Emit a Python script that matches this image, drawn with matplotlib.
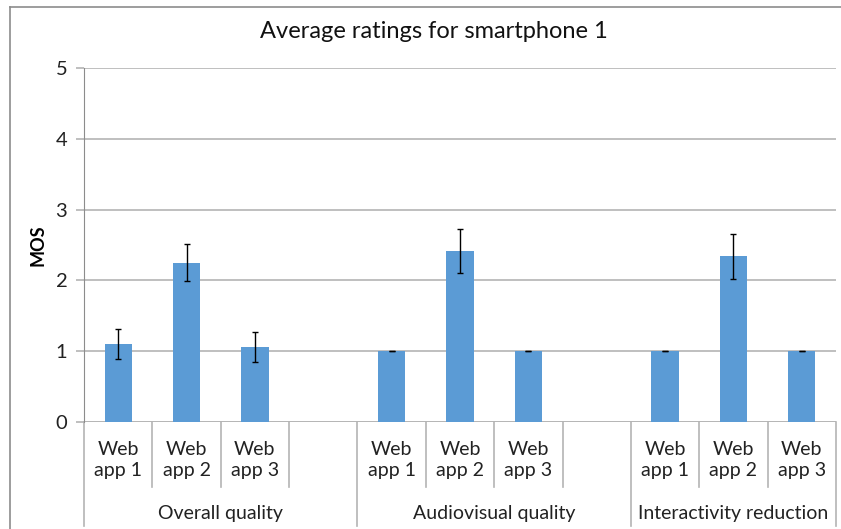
import matplotlib.pyplot as plt
from matplotlib.lines import Line2D

plt.rcParams['font.family'] = ['Lato', 'DejaVu Sans']

groups = ['Overall quality', 'Audiovisual quality', 'Interactivity reduction']
apps = ['Web\napp 1', 'Web\napp 2', 'Web\napp 3']
mos = [[1.10, 2.25, 1.06],
       [1.00, 2.41, 1.00],
       [1.00, 2.34, 1.00]]
err = [[0.21, 0.26, 0.21],
       [0.00, 0.31, 0.00],
       [0.00, 0.32, 0.00]]

fig = plt.figure(figsize=(8.41, 5.29), dpi=100)
ax = fig.add_axes([84/841, 1-422/529, 752/841, 354/529])

# chart area border (only top and left are inside the picture)
bx, by = 9.5/841, 1 - 6.5/529
fig.lines.append(Line2D([bx, 1.05], [by, by], transform=fig.transFigure,
                        color='#8c8c8c', lw=1.2))
fig.lines.append(Line2D([bx, bx], [-0.05, by], transform=fig.transFigure,
                        color='#8c8c8c', lw=1.2))

xs, vals, errs = [], [], []
for g in range(len(groups)):
    for i in range(len(apps)):
        xs.append(g*4 + i)
        vals.append(mos[g][i])
        errs.append(err[g][i])

ax.bar(xs, vals, width=0.4, color='#5b9bd5', zorder=3)
ax.errorbar(xs, vals, yerr=errs, fmt='none', ecolor='black', elinewidth=1,
            capsize=2.5, capthick=1, zorder=4)

ax.set_xlim(-0.5, 10.5)
ax.set_ylim(0, 5)
ax.set_yticks(range(6))
ax.grid(axis='y', color='#b4b4b4', lw=1.2, zorder=0)
for s in ['top', 'right', 'bottom']:
    ax.spines[s].set_visible(False)
ax.spines['left'].set_color('#8c8c8c')
ax.axhline(0, color='#b4b4b4', lw=1.2, zorder=2)
ax.set_xticks([])
ax.tick_params(axis='y', length=6, width=1.2, color='#b4b4b4', pad=6,
               labelsize=14.5, labelcolor='#222222')
ax.set_ylabel('MOS', fontsize=13, fontweight='bold')
ax.yaxis.set_label_coords(-0.05, 0.5)

tr = ax.get_xaxis_transform()
# category labels and separators
group_mid = [1.5, 5.5, 9]
for g in range(len(groups)):
    for i in range(len(apps)):
        ax.text(g*4 + i, -0.107, apps[i], transform=tr, ha='center', va='center',
                fontsize=14, linespacing=1.25, color='#222222')
    ax.text(group_mid[g], -0.258, groups[g], transform=tr,
            ha='center', va='center', fontsize=14, color='#222222')
for k in range(12):
    x = k - 0.5
    low = -0.295 if k in (0, 4, 8, 11) else -0.184
    ax.plot([x, x], [0, low], transform=tr, color='#b4b4b4', lw=1.2, clip_on=False)

fig.text(434/841, 1-32/529, 'Average ratings for smartphone 1', ha='center',
         va='center', fontsize=17, color='#111111')

fig.savefig('out.png', dpi=100)
